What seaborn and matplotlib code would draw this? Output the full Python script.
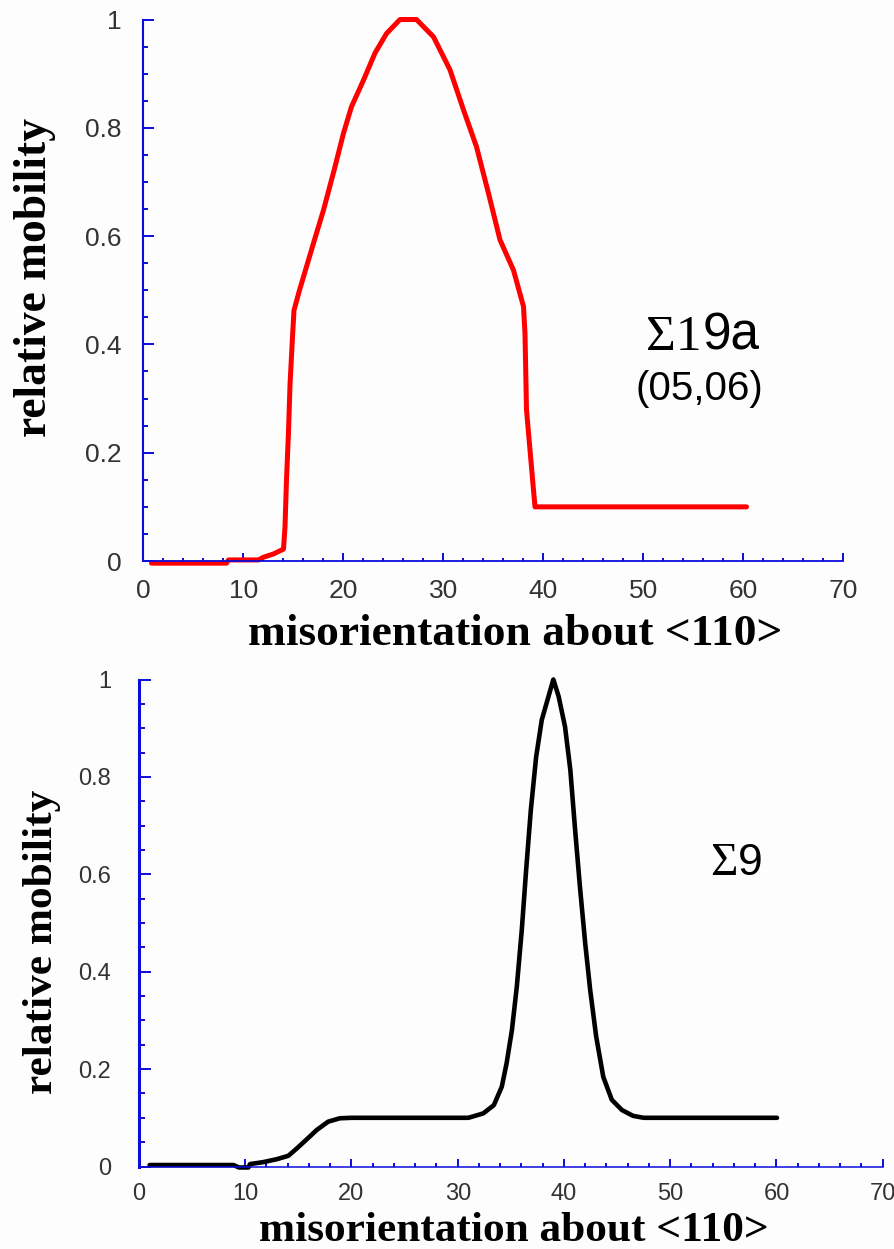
import matplotlib
matplotlib.use("Agg")
import matplotlib.pyplot as plt
import pandas as pd
import seaborn as sns

# Sigma 19a boundary, relative mobility vs misorientation (degrees)
sigma19a_angle = [0.8, 8.3, 8.5, 11.5, 12.0, 13.0, 14.0, 14.15, 14.3, 14.5, 14.65,
                  14.9, 15.05, 15.6, 17.0, 18.0, 19.15, 20.0, 20.8, 22.0, 23.15,
                  24.3, 25.65, 27.3, 29.0, 30.65, 32.0, 33.3, 34.5, 35.65, 37.0,
                  38.0, 38.15, 38.3, 38.65, 39.0, 39.15, 60.3]
sigma19a_mobility = [-0.004, -0.004, 0.002, 0.002, 0.007, 0.013, 0.022, 0.063, 0.15,
                     0.239, 0.325, 0.414, 0.463, 0.50, 0.587, 0.648, 0.728, 0.79,
                     0.839, 0.888, 0.938, 0.974, 1.0, 1.0, 0.968, 0.907, 0.833,
                     0.765, 0.679, 0.593, 0.537, 0.47, 0.42, 0.279, 0.205, 0.131,
                     0.1, 0.1]

# Sigma 9 boundary
sigma9_angle = [1.0, 8.9, 9.4, 10.3, 10.45, 11.7, 12.97, 14.06, 14.85, 15.8, 16.73,
                17.8, 18.9, 20.0, 31.0, 32.4, 33.4, 34.15, 34.6, 35.1, 35.56, 36.03,
                36.44, 36.88, 37.38, 37.91, 38.54, 39.0, 39.5, 40.1, 40.6, 41.05,
                41.5, 42.0, 42.47, 43.03, 43.7, 44.5, 45.45, 46.5, 47.5, 60.05]
sigma9_mobility = [0.003, 0.003, -0.002, -0.002, 0.005, 0.009, 0.015, 0.022, 0.037,
                   0.056, 0.075, 0.092, 0.099, 0.1, 0.1, 0.109, 0.126, 0.164, 0.212,
                   0.28, 0.369, 0.486, 0.609, 0.732, 0.841, 0.917, 0.965, 1.0,
                   0.965, 0.903, 0.814, 0.691, 0.575, 0.458, 0.362, 0.267, 0.184,
                   0.137, 0.116, 0.104, 0.1, 0.1]

x_ticks = [0, 10, 20, 30, 40, 50, 60, 70]
y_ticks = [0, 0.2, 0.4, 0.6, 0.8, 1.0]
y_tick_labels = ["0", "0.2", "0.4", "0.6", "0.8", "1"]
x_label = "misorientation about <110>"
y_label = "relative mobility"

W, H, DPI = 895, 1249, 100
AXIS_BLUE = "#0c0cdc"
TICK_GREY = "#333333"

sns.set_style("white")
plt.rcParams["font.family"] = ["Liberation Sans", "DejaVu Sans"]

fig = plt.figure(figsize=(W / DPI, H / DPI), dpi=DPI, facecolor="#fdfdfd")


def px_rect(x0, y_top, x1, y_bottom):
    return [x0 / W, 1 - y_bottom / H, (x1 - x0) / W, (y_bottom - y_top) / H]


def fig_text(x, y, s, **kw):
    return fig.text(x / W, 1 - y / H, s, **kw)


def draw_panel(ax, angle, mobility, color, lw, spine_w, xspine_w, tick_size,
               ylen, xlen, ypad, xpad):
    df = pd.DataFrame({"angle": angle, "mobility": mobility})
    sns.lineplot(data=df, x="angle", y="mobility", ax=ax, color=color,
                 linewidth=lw, estimator=None, sort=False)
    for line in ax.lines:
        line.set_clip_on(False)
        line.set_solid_joinstyle("round")
    ax.set_xlim(0, 70)
    ax.set_ylim(0, 1)
    ax.set_facecolor("none")
    ax.set_xlabel("")
    ax.set_ylabel("")
    for side in ("top", "right"):
        ax.spines[side].set_visible(False)
    ax.spines["left"].set_color(AXIS_BLUE)
    ax.spines["left"].set_linewidth(spine_w)
    ax.spines["bottom"].set_color(AXIS_BLUE)
    ax.spines["bottom"].set_linewidth(xspine_w)
    ax.set_xticks(x_ticks)
    ax.set_xticks([t for t in range(0, 71, 2) if t % 10], minor=True)
    ax.set_yticks(y_ticks)
    ax.set_yticklabels(y_tick_labels)
    ax.set_yticks([i * 0.05 for i in range(21) if i % 4], minor=True)
    ax.tick_params(axis="both", which="both", direction="in", color=AXIS_BLUE,
                   width=1.4, labelsize=tick_size, labelcolor=TICK_GREY)
    ax.tick_params(axis="y", which="major", length=ylen, pad=ypad, left=True)
    ax.tick_params(axis="y", which="minor", length=ylen * 0.48, left=True)
    ax.tick_params(axis="x", which="major", length=xlen, pad=xpad, bottom=True)
    ax.tick_params(axis="x", which="minor", length=xlen * 0.45, bottom=True)


ax_top = fig.add_axes(px_rect(143.5, 19.5, 843.5, 561))
ax_bot = fig.add_axes(px_rect(139, 679.5, 882.7, 1166.5))

draw_panel(ax_top, sigma19a_angle, sigma19a_mobility, "#ff0000", 3.6,
           1.5, 1.3, 19, 8, 5.5, 16, 13)
draw_panel(ax_bot, sigma9_angle, sigma9_mobility, "#000000", 3.3,
           2.2, 1.1, 17, 8.4, 6, 20, 12)

serif_bold = dict(family=["Liberation Serif", "DejaVu Serif"], weight="bold",
                  color="black")

# axis titles
fig_text(515, 645, x_label, ha="center", va="baseline", fontsize=32.7, **serif_bold)
fig_text(35, 277, y_label, ha="center", va="center", rotation=90,
         fontsize=32.8, **serif_bold)
fig_text(514, 1241, x_label, ha="center", va="baseline", fontsize=31.2, **serif_bold)
fig_text(42, 942, y_label, ha="center", va="center", rotation=90,
         fontsize=31.2, **serif_bold)

# boundary annotations
serif = dict(family=["Liberation Serif", "DejaVu Serif"], color="black")
sans = dict(family=["Liberation Sans", "DejaVu Sans"], color="black")
fig_text(646, 350, "\u03a31", ha="left", va="baseline", fontsize=37, **serif)
fig_text(703, 350, "9a", ha="left", va="baseline", fontsize=37, **sans)
fig_text(699, 400, "(05,06)", ha="center", va="baseline", fontsize=29, **sans)
fig_text(710, 875, "\u03a3", ha="left", va="baseline", fontsize=34, **serif)
fig_text(738, 875, "9", ha="left", va="baseline", fontsize=32, **sans)

fig.savefig("out.png", dpi=DPI, facecolor=fig.get_facecolor())
